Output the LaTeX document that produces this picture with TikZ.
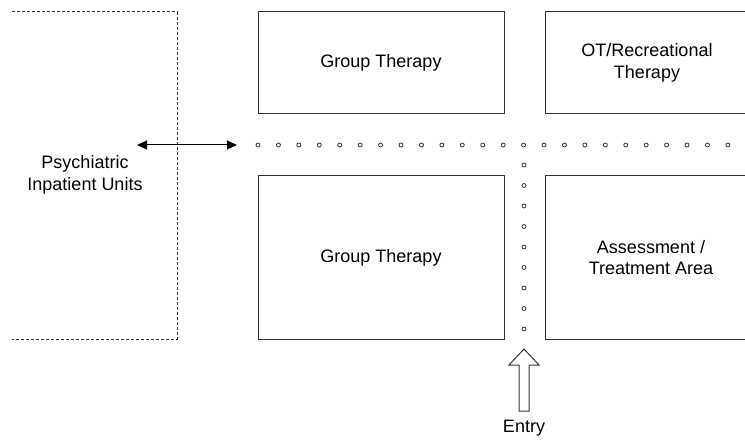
\documentclass[tikz,border=0pt]{standalone}
\usepackage{fontspec}
\setmainfont{Liberation Sans}
\usetikzlibrary{arrows.meta}

\begin{document}
\begin{tikzpicture}[x=1pt, y=-1pt, line width=1pt,
  room/.style = {draw=black!80, rectangle, align=center, font=\fontsize{18}{21.6}\selectfont},
  label/.style = {align=center, font=\fontsize{18}{21.6}\selectfont},
  spot/.style = {draw=black!80, line width=0.8pt, fill=white}]
\useasboundingbox (0,0) rectangle (745,441);
% inpatient side, open on the left
\draw[black!80, dash pattern=on 3pt off 2pt] (12,12) -- (177,12) -- (177,339) -- (12,339);
\node[label] (units) at (85,175) {Psychiatric\\Inpatient Units};
% rooms
\node[room, minimum width=246, minimum height=102] (group1) at (381,63) {Group Therapy};
\node[room, minimum width=204, minimum height=102] (ot) at (647,63) {OT/Recreational\\Therapy};
\node[room, minimum width=246, minimum height=163] (group2) at (381,257.5) {Group Therapy};
\node[room, minimum width=212, minimum height=163] (assess) at (651,257.5) {Assessment /\\Treatment Area};
% corridors
\foreach \i in {0,...,23}
  \draw[spot] (258+\i*20.43,145) circle (2);
\foreach \i in {1,...,9}
  \draw[spot] (524,144.5+\i*20.5) circle (2);
\coordinate (door) at (137,145);
\coordinate (hall) at (237,145);
\draw[{Triangle[length=10pt,width=9pt]}-{Triangle[length=10pt,width=9pt]}] (door) -- (hall);
% entry
\draw[black!80, fill=white] (519,411) -- (519,365) -- (509,365) -- (524,349) -- (539,365) -- (529,365) -- (529,411) -- cycle;
\node[label] (entry) at (524,428) {Entry};
\end{tikzpicture}
\end{document}
